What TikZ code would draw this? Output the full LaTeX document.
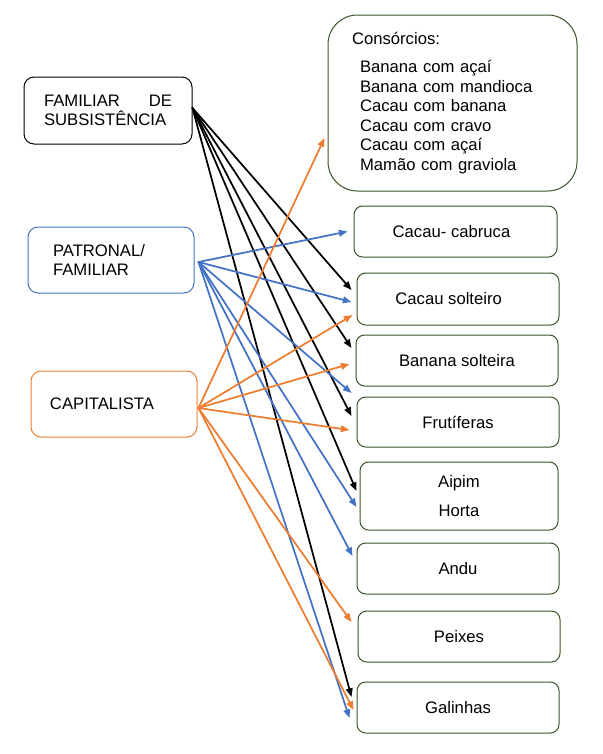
\documentclass[tikz,border=0pt]{standalone}
\usepackage{fontspec}
\setmainfont{Liberation Sans}
\usetikzlibrary{arrows.meta, calc}
\definecolor{boxgreen}{HTML}{3A5424}
\definecolor{linkblue}{HTML}{4472C4}
\definecolor{linkorange}{HTML}{ED7D31}

\begin{document}
\begin{tikzpicture}[x=0.75pt, y=-0.75pt, line cap=round, line join=round,
	font=\fontsize{12.5}{14.7}\selectfont,
	srcbox/.style={draw, rounded corners=7.5pt, line width=0.75pt, align=left},
	cropbox/.style={draw=boxgreen, rounded corners=6.5pt, line width=0.75pt,
		minimum width=151.5pt, minimum height=38.25pt, align=center},
	link/.style={line width=1.3pt, -{Triangle[length=6.5pt,width=5pt]}}]
	
	\useasboundingbox (0,0) rectangle (603,754);
	
	% ===== Left: the three kinds of farming =====
	\node[srcbox, inner xsep=15pt, text width=96pt, minimum height=50.25pt] (fam) at (108,110.5)
	{FAMILIAR\hfill DE\\SUBSISTÊNCIA};
	\node[srcbox, draw=linkblue, inner xsep=18.75pt, text width=87pt, minimum height=49.5pt] (pat) at (111,260)
	{PATRONAL/\\FAMILIAR};
	\node[srcbox, draw=linkorange, inner xsep=14.25pt, text width=96pt, minimum height=49.5pt] (cap) at (114,404)
	{CAPITALISTA};
	
	% ===== Right: what is grown / raised =====
	\node[cropbox, rounded corners=22pt, minimum width=0pt, inner xsep=18pt, text width=150.75pt,
		minimum height=132pt, align=left] (cons) at (452.5,103)
	{Consórcios:\\[6.3pt]
		\hspace*{6pt}Banana com açaí\\
		\hspace*{6pt}Banana com mandioca\\
		\hspace*{6pt}Cacau com banana\\
		\hspace*{6pt}Cacau com cravo\\
		\hspace*{6pt}Cacau com açaí\\
		\hspace*{6pt}Mamão com graviola};
	\node[cropbox, minimum width=152.25pt] (cabr) at (455.5,231.5) {Cacau- cabruca\hspace*{6pt}};
	\node[cropbox, minimum height=39pt] (csol) at (458,299) {Cacau solteiro\hspace*{14pt}};
	\node[cropbox] (bsol) at (457,360.5) {Banana solteira};
	\node[cropbox, minimum height=37.5pt] (frut) at (458,422) {Frutíferas};
	\node[cropbox, minimum width=148.5pt, minimum height=51pt] (aip) at (459,496) {Aipim\\[7pt]Horta};
	\node[cropbox] (andu) at (458,568.5) {Andu};
	\node[cropbox] (peix) at (459,636.5) {Peixes};
	\node[cropbox] (gal) at (458,707.5) {Galinhas};
	
	% start points of the fans
	\coordinate (famsrc) at ($(fam.east)+(0,-2.5)$);
	\coordinate (patsrc) at ($(pat.east)+(4,2)$);
	\coordinate (capsrc) at ($(cap.east)+(1,4)$);
	
	% black: familiar de subsistencia
	\foreach \t/\dx/\dy in {csol/-5/-9, bsol/-4/-12.5, frut/-5/-6, aip/-3/-5, gal/-5/-10.5}
	\draw[link] (famsrc) -- ($(\t.west)+(\dx,\dy)$);
	
	% blue: patronal/familiar
	\foreach \t/\dx/\dy in {cabr/-6/0, csol/-5/3, bsol/-4/32.5, aip/-3/11, andu/-4/-12.5, gal/-7/10.5}
	\draw[link, linkblue] (patsrc) -- ($(\t.west)+(\dx,\dy)$);
	
	% orange: capitalista
	\foreach \t/\dx/\dy in {cons/-3/35, csol/-4/16, bsol/-6/3.5, frut/-7/8, peix/-6/-14.5, gal/-3/2.5}
	\draw[link, linkorange] (capsrc) -- ($(\t.west)+(\dx,\dy)$);
	
\end{tikzpicture}
\end{document}
